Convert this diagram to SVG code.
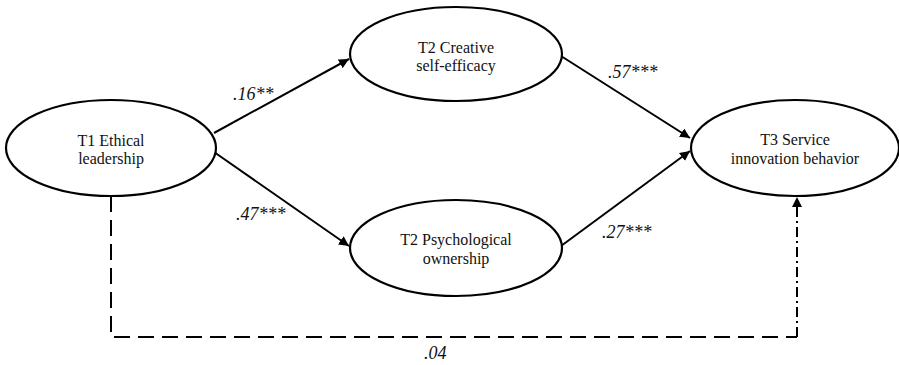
<svg xmlns="http://www.w3.org/2000/svg" width="899" height="365" viewBox="0 0 899 365">
<style>
.node ellipse{fill:#fff;stroke:#000;stroke-width:2.2}
.node text{font-family:"Liberation Serif","Times New Roman",serif;font-size:16px;fill:#111;text-anchor:middle}
.lbl{font-family:"Liberation Serif","Times New Roman",serif;font-size:18px;font-style:italic;fill:#111}
.edge{fill:none;stroke:#000;stroke-width:2}
</style>
<defs>
<marker id="ah" viewBox="0 0 10 10" refX="10" refY="5" markerWidth="5" markerHeight="5" markerUnits="strokeWidth" orient="auto">
<path d="M0,0 L10,5 L0,10 Z" fill="#000"/>
</marker>
</defs>
<g id="connectors">
<line class="edge" x1="214" y1="133" x2="349" y2="59" marker-end="url(#ah)"/>
<line class="edge" x1="214" y1="152" x2="349" y2="246" marker-end="url(#ah)"/>
<line class="edge" x1="561" y1="56" x2="690" y2="138" marker-end="url(#ah)"/>
<line class="edge" x1="561" y1="246" x2="690" y2="151" marker-end="url(#ah)"/>
<polyline class="edge" points="111,196 111,337 797,337" stroke-dasharray="16,8"/>
<line class="edge" x1="797" y1="337" x2="797" y2="197" stroke-dasharray="10,4,2,4" marker-end="url(#ah)"/>
<text class="lbl" x="233" y="100">.16**</text>
<text class="lbl" x="236" y="220">.47***</text>
<text class="lbl" x="608" y="78">.57***</text>
<text class="lbl" x="602" y="238">.27***</text>
<text class="lbl" x="424" y="359">.04</text>
</g>
<g id="t1" class="node">
<ellipse cx="111" cy="148" rx="105" ry="48"/>
<text x="111" y="146">T1 Ethical</text>
<text x="111" y="164">leadership</text>
</g>
<g id="t2a" class="node">
<ellipse cx="456" cy="54" rx="106" ry="47"/>
<text x="456" y="53">T2 Creative</text>
<text x="456" y="71">self-efficacy</text>
</g>
<g id="t2b" class="node">
<ellipse cx="456" cy="248" rx="106" ry="48"/>
<text x="456" y="245">T2 Psychological</text>
<text x="456" y="264">ownership</text>
</g>
<g id="t3" class="node">
<ellipse cx="795" cy="148" rx="104" ry="48"/>
<text x="795" y="145">T3 Service</text>
<text x="795" y="164">innovation behavior</text>
</g>
</svg>
